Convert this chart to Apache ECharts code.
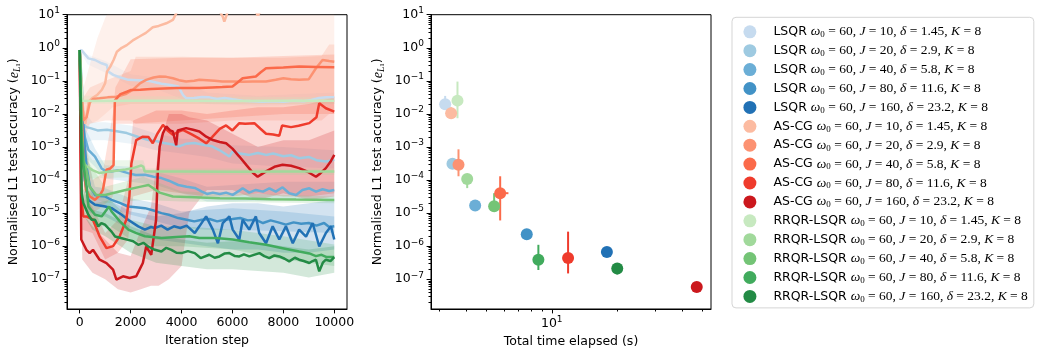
<!DOCTYPE html>
<html>
<head>
<meta charset="utf-8">
<script src="https://cdn.jsdelivr.net/npm/echarts@6/dist/echarts.min.js"></script>
<style>
html, body { margin: 0; padding: 0; background: #fff; }
#chart { width: 1046px; height: 358px; }
</style>
</head>
<body>
<div id="chart"></div>
<script>
// legend / run settings
var methods = ['LSQR', 'AS-CG', 'RRQR-LSQR'];
var jValues = [10, 20, 40, 80, 160];
var deltaValues = ['1.45', '2.9', '5.8', '11.6', '23.2'];
var omega0 = 60;
var kValue = 8;
var palette = [
    ['#c6dbef', '#9ecae1', '#6baed6', '#4292c6', '#2171b5'],
    ['#fcbba1', '#fc9272', '#fb6a4a', '#ef3b2c', '#cb181d'],
    ['#c7e9c0', '#a1d99b', '#74c476', '#41ab5d', '#238b45']
];

// left panel, lines: [iteration step, log10 of error]
var lsqr10 = [[0,-0.07],[80,-0.08],[340,-0.32],[600,-0.37],[860,-0.47],[1060,-0.52],[1120,-0.72],[1320,-0.82],[1600,-0.9],[1910,-0.97],[2300,-0.98],[2690,-1.0],[3000,-1.05],[3210,-1.09],[3500,-1.12],[3870,-1.17],[4060,-1.43],[4190,-1.53],[4500,-1.52],[4800,-1.49],[5100,-1.5],[5400,-1.55],[5700,-1.52],[6000,-1.56],[6400,-1.6],[6800,-1.62],[7180,-1.63],[7600,-1.62],[8000,-1.63],[8400,-1.6],[8800,-1.62],[9100,-1.58],[9400,-1.52],[9700,-1.5],[10000,-1.5]];
var lsqr20 = [[0,-0.07],[90,-1.2],[150,-2.3],[250,-2.4],[420,-2.43],[700,-2.5],[1070,-2.48],[1400,-2.52],[1850,-2.58],[2300,-2.7],[2700,-2.79],[3000,-2.82],[3300,-2.88],[3600,-2.92],[3900,-2.98],[4200,-2.9],[4500,-2.88],[4900,-2.94],[5200,-2.98],[5500,-3.1],[5880,-3.29],[6000,-3.14],[6300,-3.2],[6660,-3.24],[7000,-3.18],[7320,-3.24],[7600,-3.2],[8000,-3.28],[8300,-3.25],[8620,-3.34],[9000,-3.3],[9300,-3.4],[9670,-3.44],[10000,-3.39]];
var lsqr40 = [[0,-0.07],[80,-1.98],[200,-2.7],[340,-3.09],[600,-3.29],[860,-3.65],[1000,-3.72],[1250,-3.74],[1500,-3.7],[1900,-3.79],[2200,-3.85],[2560,-3.84],[2900,-3.9],[3210,-3.94],[3500,-4.02],[3870,-4.15],[4200,-4.2],[4520,-4.24],[4800,-4.35],[5000,-4.42],[5230,-4.38],[5500,-4.42],[5750,-4.38],[6010,-4.45],[6270,-4.32],[6400,-4.25],[6660,-4.38],[6920,-4.3],[7200,-4.35],[7450,-4.25],[7700,-4.35],[7970,-4.22],[8230,-4.4],[8500,-4.45],[8750,-4.3],[9020,-4.25],[9280,-4.35],[9540,-4.28],[9800,-4.33],[10000,-4.3]];
var lsqr80 = [[0,-0.07],[90,-1.8],[200,-3.0],[270,-3.6],[400,-4.2],[600,-4.45],[800,-4.48],[1000,-4.5],[1250,-4.6],[1600,-4.7],[1900,-4.8],[2200,-4.82],[2560,-4.85],[2900,-4.92],[3210,-5.0],[3500,-5.05],[3870,-5.15],[4200,-5.2],[4500,-5.25],[4800,-5.2],[5100,-5.18],[5400,-5.25],[5700,-5.2],[6000,-5.18],[6300,-5.15],[6600,-5.22],[6900,-5.2],[7200,-5.3],[7500,-5.22],[7800,-5.28],[8100,-5.35],[8400,-5.28],[8700,-5.32],[9000,-5.3],[9300,-5.38],[9600,-5.3],[9800,-5.42],[10000,-5.4]];
var lsqr160 = [[0,-0.07],[80,-2.5],[200,-4.0],[340,-4.6],[600,-4.75],[1000,-4.8],[1250,-4.85],[1650,-5.05],[1900,-5.2],[2300,-5.4],[2560,-5.5],[2800,-5.42],[2950,-5.45],[3200,-5.38],[3450,-5.5],[3700,-5.4],[3950,-5.45],[4200,-5.38],[4520,-5.6],[4700,-5.4],[4965,-5.1],[5230,-5.5],[5430,-5.91],[5620,-5.3],[5880,-5.1],[6010,-5.5],[6270,-5.8],[6400,-5.2],[6660,-5.5],[6920,-5.1],[7050,-5.6],[7320,-5.91],[7580,-5.4],[7840,-5.8],[8100,-5.4],[8370,-5.91],[8620,-5.5],[8890,-5.71],[9150,-5.3],[9410,-6.01],[9670,-5.6],[9870,-5.4],[10000,-5.8]];
var ascg10 = [[0,-0.07],[70,-1.2],[130,-1.88],[220,-2.3],[350,-1.63],[480,-1.53],[680,-1.43],[870,-1.27],[1000,-1.07],[1070,-0.72],[1200,-0.57],[1330,-0.37],[1460,-0.12],[1650,0.0],[1850,0.08],[2120,0.24],[2350,0.34],[2600,0.45],[2870,0.62],[3100,0.66],[3400,0.74],[3660,0.84],[3790,1.04],[3900,1.2],[4800,1.3],[5500,1.1],[5620,0.94],[5680,0.79],[5750,0.94],[5850,1.2],[6900,1.1],[7000,0.98],[7100,1.1],[8000,1.3],[10000,1.3]];
var ascg20 = [[0,-0.07],[80,-1.5],[150,-2.2],[270,-2.1],[400,-1.65],[520,-1.55],[780,-1.53],[1100,-1.5],[1440,-1.48],[1800,-1.4],[2090,-1.27],[2380,-1.07],[2610,-0.97],[2900,-0.9],[3140,-0.87],[3400,-0.88],[3660,-0.92],[3900,-0.98],[4180,-1.02],[4500,-1.0],[4700,-0.97],[5000,-0.98],[5300,-1.0],[5600,-1.02],[6000,-1.02],[6400,-1.03],[6800,-1.02],[7320,-1.02],[7700,-0.97],[8000,-0.92],[8300,-0.95],[8620,-0.97],[9000,-0.95],[9280,-0.62],[9540,-0.37],[9800,-0.4],[10000,-0.42]];
var ascg40 = [[0,-0.07],[80,-2.0],[150,-3.5],[250,-4.3],[400,-4.5],[600,-4.6],[800,-4.45],[910,-4.3],[1050,-3.69],[1200,-3.65],[1330,-3.55],[1380,-1.6],[1600,-1.4],[1850,-1.33],[2000,-1.28],[2380,-1.27],[2800,-1.25],[3300,-1.23],[3800,-1.22],[4300,-1.22],[4700,-1.22],[5200,-1.2],[5600,-1.19],[6000,-1.17],[6200,-1.05],[6400,-0.92],[6920,-0.87],[7100,-0.75],[7320,-0.62],[8000,-0.6],[8620,-0.57],[9300,-0.58],[10000,-0.59]];
var ascg80 = [[0,-0.07],[60,-4.5],[140,-5.1],[260,-5.1],[520,-5.2],[780,-5.7],[1050,-6.06],[1310,-6.0],[1570,-5.7],[1830,-5.2],[1950,-4.5],[2030,-3.5],[2220,-2.79],[2480,-2.69],[2700,-2.7],[2870,-2.89],[3050,-2.6],[3270,-2.33],[3450,-2.5],[3660,-2.63],[3850,-2.55],[4050,-2.48],[4400,-2.62],[4700,-2.75],[4970,-2.89],[5200,-2.7],[5500,-2.45],[5750,-2.35],[6000,-2.5],[6270,-2.28],[6500,-2.3],[6860,-2.28],[7100,-2.45],[7320,-2.6],[7600,-2.62],[7840,-2.66],[7950,-2.35],[8300,-2.4],[8600,-2.36],[9020,-2.28],[9300,-2.1],[9410,-1.68],[9670,-1.83],[10000,-1.93]];
var ascg160 = [[0,-0.07],[60,-5.8],[260,-6.11],[390,-6.21],[520,-6.11],[780,-6.41],[1050,-6.51],[1310,-6.71],[1440,-7.01],[1700,-6.91],[1960,-6.96],[2220,-6.91],[2350,-6.71],[2480,-6.51],[2610,-6.01],[2810,-6.26],[3000,-5.2],[3070,-3.69],[3140,-2.99],[3270,-2.58],[3400,-2.38],[3550,-2.5],[3660,-2.53],[3790,-2.95],[3850,-2.5],[3920,-2.48],[4180,-2.43],[4450,-2.48],[4700,-2.53],[4970,-2.69],[5230,-2.79],[5500,-2.85],[5750,-2.89],[6000,-3.05],[6270,-3.29],[6550,-3.55],[6800,-3.78],[6990,-3.9],[7150,-3.82],[7320,-3.74],[7650,-3.6],[7970,-3.54],[8300,-3.57],[8620,-3.64],[8950,-3.75],[9280,-3.9],[9450,-3.8],[9670,-3.64],[9850,-3.45],[10000,-3.24]];
var rrqr10 = [[0,-0.07],[60,-1.0],[100,-1.6],[500,-1.61],[2000,-1.6],[4000,-1.6],[6000,-1.61],[8000,-1.6],[10000,-1.6]];
var rrqr20 = [[0,-0.07],[80,-2.5],[130,-3.49],[290,-3.59],[500,-3.7],[780,-3.79],[1100,-3.75],[1440,-3.72],[1800,-3.68],[2090,-3.64],[2420,-3.56],[2500,-3.6],[2550,-3.74],[4000,-3.74],[6000,-3.75],[8000,-3.74],[10000,-3.74]];
var rrqr40 = [[0,-0.07],[80,-2.8],[150,-3.4],[260,-3.69],[390,-4.2],[650,-4.45],[1000,-4.45],[1800,-4.3],[2400,-4.2],[2700,-4.15],[3140,-4.38],[3660,-4.5],[4500,-4.52],[5500,-4.55],[6500,-4.56],[7500,-4.58],[8500,-4.59],[10000,-4.6]];
var rrqr80 = [[0,-0.07],[70,-2.5],[150,-3.59],[270,-4.2],[340,-4.8],[600,-5.05],[860,-5.1],[1150,-4.8],[1250,-4.95],[1580,-5.25],[1910,-5.5],[2200,-5.6],[2560,-5.7],[3210,-5.75],[3800,-5.72],[4300,-5.7],[4700,-5.75],[5350,-5.75],[6010,-5.8],[6660,-5.88],[7320,-5.96],[7970,-6.06],[8620,-6.16],[9020,-6.22],[9280,-6.3],[9500,-6.26],[9700,-6.33],[10000,-6.33]];
var rrqr160 = [[0,-0.07],[40,-2.0],[78,-4.4],[144,-4.7],[340,-5.05],[470,-5.2],[600,-5.2],[730,-5.4],[850,-5.3],[990,-5.35],[1250,-5.56],[1390,-5.71],[1650,-5.76],[1900,-5.81],[2100,-5.85],[2300,-5.96],[2500,-5.9],[2690,-6.01],[2950,-6.11],[3210,-6.16],[3400,-6.05],[3600,-6.11],[3800,-6.2],[4000,-6.21],[4250,-6.15],[4520,-6.21],[4750,-6.36],[5090,-6.26],[5300,-6.35],[5490,-6.31],[5700,-6.22],[5880,-6.21],[6100,-6.3],[6270,-6.31],[6450,-6.25],[6660,-6.31],[7060,-6.21],[7250,-6.3],[7450,-6.36],[7650,-6.28],[7840,-6.31],[8050,-6.38],[8230,-6.46],[8450,-6.35],[8620,-6.41],[8800,-6.45],[9020,-6.51],[9150,-6.45],[9280,-6.41],[9410,-6.76],[9550,-6.5],[9670,-6.41],[9850,-6.45],[10000,-6.33]];

// left panel, spread bands: [iteration step, log10 low, log10 high]
var lsqr10Band = [[0,-0.07,-0.07],[300,-0.5,-0.2],[1000,-0.75,-0.4],[2000,-1.15,-0.8],[3000,-1.25,-0.9],[4000,-1.55,-1.0],[5000,-1.7,-1.35],[7000,-1.75,-1.45],[10000,-1.7,-1.35]];
var lsqr20Band = [[0,-0.07,-0.07],[150,-2.9,-1.9],[500,-2.8,-2.25],[1000,-2.8,-2.25],[2000,-2.9,-2.35],[3000,-3.1,-2.6],[4000,-3.2,-2.75],[5000,-3.3,-2.75],[6000,-3.5,-2.95],[8000,-3.6,-3.0],[10000,-3.65,-3.1]];
var lsqr40Band = [[0,-0.07,-0.07],[200,-3.3,-2.4],[600,-3.6,-3.05],[1000,-3.95,-3.55],[2000,-4.05,-3.6],[3000,-4.15,-3.75],[4000,-4.4,-3.95],[5000,-4.65,-4.2],[6000,-4.65,-4.15],[8000,-4.6,-4.05],[10000,-4.6,-4.05]];
var lsqr80Band = [[0,-0.07,-0.07],[300,-4.1,-3.3],[600,-4.7,-4.2],[1000,-4.8,-4.25],[2000,-5.05,-4.55],[3000,-5.25,-4.7],[4000,-5.45,-4.95],[5000,-5.5,-4.9],[6000,-5.5,-4.85],[8000,-5.55,-4.95],[10000,-5.6,-5.1]];
var lsqr160Band = [[0,-0.07,-0.07],[300,-4.95,-4.3],[600,-5.05,-4.45],[1000,-5.1,-4.55],[2000,-5.5,-4.95],[3000,-5.8,-5.1],[4000,-5.9,-5.0],[5000,-6.0,-4.8],[6000,-6.1,-4.7],[7000,-6.1,-4.7],[8000,-6.2,-4.8],[9000,-6.2,-4.7],[10000,-6.1,-4.6]];
var ascg10Band = [[0,-0.07,-0.07],[150,-2.5,-1.2],[400,-2.3,-0.5],[700,-2.2,0.3],[1000,-2.0,0.9],[1300,-1.8,1.3],[2000,-1.7,1.3],[10000,-1.7,1.3]];
var ascg20Band = [[0,-0.07,-0.07],[150,-2.8,-1.5],[400,-2.3,-1.2],[1000,-2.2,-1.0],[2000,-2.2,-0.7],[2200,-2.3,-0.27],[4000,-2.3,-0.27],[6000,-2.2,-0.3],[8000,-2.2,-0.3],[9500,-2.2,-0.25],[9800,-2.0,0.1],[10000,-2.0,0.1]];
var ascg40Band = [[0,-0.07,-0.07],[150,-4.5,-2.5],[500,-5.0,-4.0],[900,-4.8,-3.8],[1300,-4.5,-2.0],[1400,-2.3,-1.2],[2000,-2.3,-0.35],[4000,-2.2,-0.3],[6000,-2.1,-0.3],[8000,-2.0,-0.25],[10000,-2.0,-0.2]];
var ascg80Band = [[0,-0.07,-0.07],[100,-5.5,-4.5],[500,-5.6,-4.8],[1000,-6.4,-5.6],[1500,-6.2,-5.2],[1900,-5.8,-4.0],[2100,-4.5,-2.2],[3000,-4.3,-1.9],[4000,-4.4,-1.9],[5000,-4.5,-2.0],[6000,-4.5,-1.9],[7000,-4.4,-1.8],[8000,-4.5,-1.8],[9000,-4.5,-1.7],[10000,-4.4,-1.5]];
var ascg160Band = [[0,-0.07,-0.07],[100,-6.4,-5.0],[500,-6.8,-5.4],[1000,-7.0,-5.8],[1500,-7.3,-6.2],[2000,-7.4,-6.3],[2400,-7.3,-5.5],[2800,-7.2,-4.8],[3100,-7.2,-3.0],[3500,-7.0,-2.0],[4000,-6.6,-2.0],[4300,-5.0,-2.1],[5000,-4.3,-2.2],[6000,-4.3,-2.6],[7000,-4.6,-3.0],[8000,-4.4,-2.8],[9000,-4.6,-2.8],[10000,-4.5,-2.5]];
var rrqr10Band = [[0,-0.07,-0.07],[100,-1.7,-1.45],[10000,-1.7,-1.5]];
var rrqr20Band = [[0,-0.07,-0.07],[150,-3.9,-3.0],[500,-3.95,-3.4],[2500,-3.9,-3.4],[2600,-3.85,-3.65],[10000,-3.85,-3.65]];
var rrqr40Band = [[0,-0.07,-0.07],[200,-4.4,-3.3],[1000,-4.7,-4.2],[2500,-4.6,-3.9],[4000,-4.65,-4.35],[10000,-4.7,-4.5]];
var rrqr80Band = [[0,-0.07,-0.07],[200,-4.9,-3.6],[600,-5.4,-4.7],[1200,-5.4,-4.6],[2000,-5.8,-5.2],[3000,-6.0,-5.4],[4000,-6.0,-5.4],[6000,-6.1,-5.5],[8000,-6.4,-5.7],[10000,-6.6,-5.95]];
var rrqr160Band = [[0,-0.07,-0.07],[100,-5.0,-4.2],[500,-5.5,-4.9],[1000,-5.7,-5.0],[2000,-6.2,-5.4],[3000,-6.5,-5.7],[4000,-6.6,-5.8],[5000,-6.7,-5.9],[6000,-6.7,-5.85],[7000,-6.75,-5.9],[8000,-6.8,-6.0],[9000,-6.95,-6.1],[10000,-6.8,-6.0]];

// right panel: total time (s), final error, error bar ends
var timeLsqr = [3.21, 3.47, 4.42, 7.66, 18.0];
var timeLsqrLo = [3.19, 3.45, 4.40, 7.62, 17.9];
var timeLsqrHi = [3.23, 3.49, 4.44, 7.70, 18.1];
var accLsqr = [0.0196, 3.1e-4, 1.7e-5, 2.3e-6, 6.7e-7];
var accLsqrLo = [0.015, 2.6e-4, 1.3e-5, 2.0e-6, 5.8e-7];
var accLsqrHi = [0.035, 3.6e-4, 2.0e-5, 2.6e-6, 7.5e-7];
var timeAscg = [3.42, 3.70, 5.77, 11.9, 46.9];
var timeAscgLo = [3.36, 3.63, 5.5, 11.5, 46.5];
var timeAscgHi = [3.48, 3.78, 6.3, 12.4, 47.3];
var accAscg = [0.0105, 2.9e-4, 4.0e-5, 4.4e-7, 5.8e-8];
var accAscgLo = [0.008, 1.3e-4, 6e-6, 1.5e-7, 5.0e-8];
var accAscgHi = [0.016, 8.5e-4, 1.3e-4, 2.75e-6, 6.6e-8];
var timeRrqr = [3.66, 4.06, 5.41, 8.67, 20.1];
var timeRrqrLo = [3.64, 4.04, 5.38, 8.6, 20.0];
var timeRrqrHi = [3.68, 4.08, 5.44, 8.74, 20.2];
var accRrqr = [0.0252, 1.07e-4, 1.6e-5, 3.9e-7, 2.1e-7];
var accRrqrLo = [0.0074, 5.7e-5, 1.3e-5, 1.9e-7, 1.4e-7];
var accRrqrHi = [0.095, 1.4e-4, 4.0e-5, 1.1e-6, 2.4e-7];

// tick labels
var iterTicks = [0, 2000, 4000, 6000, 8000, 10000];
var decadeTicks = [1e-7, 1e-6, 1e-5, 1e-4, 1e-3, 1e-2, 1e-1, 1, 10];
var timeTicks = [10];
var timeMinorTicks = [3, 4, 5, 6, 7, 8, 9, 20, 30, 40, 50];

var lineSets = [[lsqr10, lsqr20, lsqr40, lsqr80, lsqr160], [ascg10, ascg20, ascg40, ascg80, ascg160], [rrqr10, rrqr20, rrqr40, rrqr80, rrqr160]];
var bandSets = [[lsqr10Band, lsqr20Band, lsqr40Band, lsqr80Band, lsqr160Band], [ascg10Band, ascg20Band, ascg40Band, ascg80Band, ascg160Band], [rrqr10Band, rrqr20Band, rrqr40Band, rrqr80Band, rrqr160Band]];
var timeSets = [[timeLsqr, timeLsqrLo, timeLsqrHi], [timeAscg, timeAscgLo, timeAscgHi], [timeRrqr, timeRrqrLo, timeRrqrHi]];
var accSets = [[accLsqr, accLsqrLo, accLsqrHi], [accAscg, accAscgLo, accAscgHi], [accRrqr, accRrqrLo, accRrqrHi]];

var FONT = 'DejaVu Sans';
var SERIF = 'Liberation Serif';

var decadeMinor = [];
for (var k = -8; k <= 0; k++) {
    for (var m = 2; m <= 9; m++) {
        var v = m * Math.pow(10, k);
        if (v > Math.pow(10, -7.9)) decadeMinor.push(v);
    }
}

function toPts(arr) {
    return arr.map(function (p) { return [p[0], Math.pow(10, p[1])]; });
}

function supLabel(v) {
    var e = Math.round(Math.log10(v));
    return '{b|10}{s|' + (e < 0 ? '\u2212' + (-e) : e) + '}';
}

var supRich = {
    b: { fontFamily: FONT, fontSize: 12.5, color: '#000', lineHeight: 17 },
    s: { fontFamily: FONT, fontSize: 9, color: '#000', lineHeight: 8, verticalAlign: 'top' }
};

var nameRich = {
    e: { fontFamily: SERIF, fontStyle: 'italic', fontSize: 14, color: '#000', lineHeight: 16 },
    l: { fontFamily: SERIF, fontStyle: 'italic', fontSize: 9.5, color: '#000', lineHeight: 9, verticalAlign: 'bottom' },
    o: { fontFamily: SERIF, fontSize: 7, color: '#000', lineHeight: 5, verticalAlign: 'bottom' }
};
var yName = 'Normalised L1 test accuracy ({e|e}{l|L}{o|1})';

var legendNames = [];
for (var gg = 0; gg < 3; gg++) {
    for (var ii = 0; ii < 5; ii++) legendNames.push(methods[gg] + ' J=' + jValues[ii]);
}

function bandSeries(name, color, band) {
    var pts = band.map(function (b) { return [b[0], Math.pow(10, b[1]), Math.pow(10, b[2])]; });
    return {
        name: name, type: 'custom', xAxisIndex: 0, yAxisIndex: 0, clip: true, silent: true,
        data: pts, encode: { x: 0, y: [1, 2] },
        itemStyle: { color: color },
        renderItem: function (params, api) {
            if (params.dataIndex !== 0) return;
            var upper = [], lower = [];
            for (var i = 0; i < pts.length; i++) {
                upper.push(api.coord([pts[i][0], pts[i][2]]));
                lower.unshift(api.coord([pts[i][0], pts[i][1]]));
            }
            return {
                type: 'polygon',
                shape: { points: upper.concat(lower) },
                style: { fill: color, opacity: 0.2 }
            };
        }
    };
}

function errSeries(name, color, row) {
    return {
        name: name, type: 'custom', xAxisIndex: 1, yAxisIndex: 2, silent: true,
        data: [row],
        itemStyle: { color: color },
        renderItem: function (params, api) {
            var xl = api.coord([api.value(2), api.value(1)]);
            var xh = api.coord([api.value(3), api.value(1)]);
            var yl = api.coord([api.value(0), api.value(4)]);
            var yh = api.coord([api.value(0), api.value(5)]);
            return {
                type: 'group',
                children: [
                    { type: 'line', shape: { x1: yl[0], y1: yl[1], x2: yh[0], y2: yh[1] }, style: { stroke: color, lineWidth: 2 } },
                    { type: 'line', shape: { x1: xl[0], y1: xl[1], x2: xh[0], y2: xh[1] }, style: { stroke: color, lineWidth: 2 } }
                ]
            };
        }
    };
}

var series = [];
for (var g = 0; g < 3; g++) {
    for (var i = 0; i < 5; i++) {
        var nm = methods[g] + ' J=' + jValues[i];
        var col = palette[g][i];
        series.push({
            name: nm, type: 'line', xAxisIndex: 0, yAxisIndex: 0,
            data: toPts(lineSets[g][i]),
            showSymbol: false, symbol: 'none', clip: true, silent: true,
            lineStyle: { color: col, width: 2.5 },
            itemStyle: { color: col }
        });
        series.push(bandSeries(nm, col, bandSets[g][i]));
    }
}
for (var g2 = 0; g2 < 3; g2++) {
    for (var i2 = 0; i2 < 5; i2++) {
        var nm2 = methods[g2] + ' J=' + jValues[i2];
        var col2 = palette[g2][i2];
        var t = timeSets[g2], a = accSets[g2];
        series.push(errSeries(nm2, col2, [t[0][i2], a[0][i2], t[1][i2], t[2][i2], a[1][i2], a[2][i2]]));
        series.push({
            name: nm2, type: 'scatter', xAxisIndex: 1, yAxisIndex: 2, silent: true,
            data: [[t[0][i2], a[0][i2]]],
            symbol: 'circle', symbolSize: 12,
            itemStyle: { color: col2, opacity: 1 }
        });
    }
}

var chart = echarts.init(document.getElementById('chart'), null, { renderer: 'canvas' });

var tickStyle = { color: '#000', width: 1 };
var labelBase = { fontFamily: FONT, fontSize: 12.5, color: '#000' };
var nameStyle = { fontFamily: FONT, fontSize: 12.5, color: '#000', rich: nameRich };
var axisLineMain = { onZero: false, lineStyle: tickStyle };
var axisLineHidden = { show: false, onZero: false };

var option = {
    animation: false,
    backgroundColor: '#fff',
    grid: [
        { left: 67, top: 14.7, width: 280, height: 294.3, show: true, borderColor: '#000', borderWidth: 1, backgroundColor: 'transparent', containLabel: false, outerBoundsMode: 'none' },
        { left: 431, top: 14.7, width: 280, height: 294.3, show: true, borderColor: '#000', borderWidth: 1, backgroundColor: 'transparent', containLabel: false, outerBoundsMode: 'none' }
    ],
    xAxis: [
        {
            type: 'value', gridIndex: 0, min: -500, max: 10500,
            axisLine: axisLineMain,
            axisTick: { customValues: iterTicks, length: 4.4, lineStyle: tickStyle },
            axisLabel: Object.assign({ customValues: iterTicks, margin: 7, formatter: function (v) { return String(v); } }, labelBase),
            splitLine: { show: false },
            name: 'Iteration step', nameLocation: 'middle', nameGap: 25, nameTextStyle: nameStyle
        },
        {
            type: 'log', logBase: 10, gridIndex: 1, min: 2.76, max: 54.6,
            axisLine: axisLineMain,
            axisTick: { customValues: timeTicks, length: 4.4, lineStyle: tickStyle },
            axisLabel: { customValues: timeTicks, margin: 6, formatter: supLabel, rich: supRich },
            splitLine: { show: false },
            name: 'Total time elapsed (s)', nameLocation: 'middle', nameGap: 25, nameTextStyle: nameStyle
        },
        {
            type: 'log', logBase: 10, gridIndex: 1, min: 2.76, max: 54.6,
            position: 'top', offset: -294.3,
            axisLine: axisLineHidden,
            axisTick: { customValues: timeMinorTicks, length: 2.5, inside: true, lineStyle: tickStyle },
            axisLabel: { show: false },
            splitLine: { show: false }
        }
    ],
    yAxis: [
        {
            type: 'log', logBase: 10, gridIndex: 0, min: Math.pow(10, -7.9), max: 10,
            axisLine: axisLineMain,
            axisTick: { customValues: decadeTicks, length: 4.4, lineStyle: tickStyle },
            axisLabel: { customValues: decadeTicks, margin: 7, formatter: supLabel, rich: supRich },
            splitLine: { show: false },
            name: yName, nameLocation: 'middle', nameGap: 45, nameTextStyle: nameStyle
        },
        {
            type: 'log', logBase: 10, gridIndex: 0, min: Math.pow(10, -7.9), max: 10,
            position: 'right', offset: -280,
            axisLine: axisLineHidden,
            axisTick: { customValues: decadeMinor, length: 2.5, inside: true, lineStyle: tickStyle },
            axisLabel: { show: false },
            splitLine: { show: false }
        },
        {
            type: 'log', logBase: 10, gridIndex: 1, min: Math.pow(10, -7.9), max: 10,
            axisLine: axisLineMain,
            axisTick: { customValues: decadeTicks, length: 4.4, lineStyle: tickStyle },
            axisLabel: { customValues: decadeTicks, margin: 7, formatter: supLabel, rich: supRich },
            splitLine: { show: false },
            name: yName, nameLocation: 'middle', nameGap: 45, nameTextStyle: nameStyle
        },
        {
            type: 'log', logBase: 10, gridIndex: 1, min: Math.pow(10, -7.9), max: 10,
            position: 'right', offset: -280,
            axisLine: axisLineHidden,
            axisTick: { customValues: decadeMinor, length: 2.5, inside: true, lineStyle: tickStyle },
            axisLabel: { show: false },
            splitLine: { show: false }
        }
    ],
    legend: {
        orient: 'vertical', left: 732, top: 17.3,
        padding: [7.5, 6, 4, 11.4],
        itemWidth: 13, itemHeight: 13, itemGap: 4.4,
        icon: 'circle', selectedMode: false,
        backgroundColor: '#fff', borderColor: '#d5d5d5', borderWidth: 1, borderRadius: 4,
        data: legendNames,
        formatter: function (name) {
            var idx = legendNames.indexOf(name);
            var g = Math.floor(idx / 5), i = idx % 5;
            return '{m|' + methods[g] + '} {it|\u03c9}{sb|0}{n| = ' + omega0 + ', }{it|J}{n| = ' + jValues[i] +
                ', }{it|\u03b4}{n| = ' + deltaValues[i] + ', }{it|K}{n| = ' + kValue + '}';
        },
        textStyle: {
            fontFamily: FONT, fontSize: 12.5, color: '#000',
            rich: {
                m: { fontFamily: FONT, fontSize: 12.5, color: '#000', padding: [0, 0, 0, 12], lineHeight: 15 },
                it: { fontFamily: SERIF, fontStyle: 'italic', fontSize: 13.5, color: '#000', lineHeight: 15 },
                n: { fontFamily: SERIF, fontSize: 13.5, color: '#000', lineHeight: 15 },
                sb: { fontFamily: SERIF, fontSize: 9, color: '#000', lineHeight: 9, verticalAlign: 'bottom' }
            }
        }
    },
    series: series
};

chart.setOption(option);
</script>
</body>
</html>
